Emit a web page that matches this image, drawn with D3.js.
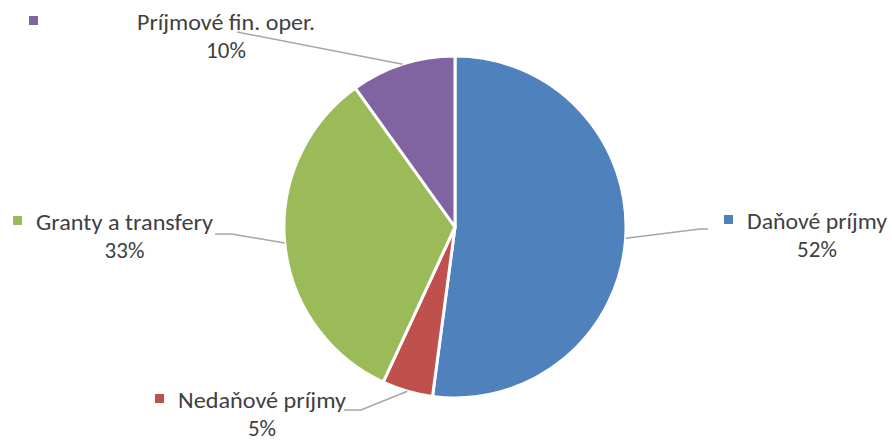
<!DOCTYPE html>
<html><head><meta charset="utf-8">
<script src="https://cdn.jsdelivr.net/npm/d3@7"></script>
<style>body{margin:0;background:#fff}svg{display:block}</style>
</head><body>
<svg id="c" width="892" height="441"></svg>
<script>
const categories = ["Daňové príjmy", "Nedaňové príjmy", "Granty a transfery", "Príjmové fin. oper."];
const values = [52.1, 4.8, 33.2, 9.9];
const labels = ["52%", "5%", "33%", "10%"];
const colors = ["#4F81BD", "#C0504D", "#9BBB59", "#8064A2"];

// label layout: name text start x, baseline y, target width, elbow, marker x, percent baseline
const layout = [
  {tx: 747, ty: 229, w: 140, elbow: [708, 229], side: "right", mx: 724, py: 257},
  {tx: 178, ty: 408, w: 168, elbow: [361, 410], side: "left", mx: 155, py: 436},
  {tx: 36,  ty: 230, w: 177, elbow: [232, 234], side: "left", mx: 13, py: 258},
  {tx: 137, ty: 30,  w: 178, elbow: [237, 32], side: "left", mx: 29, py: 58}
];

const svg = d3.select("#c");
const cx = 455, cy = 227, r = 171;
const g = svg.append("g").attr("transform", `translate(${cx},${cy})`);
const pie = d3.pie().sort(null).value(d => d)(values);
const arc = d3.arc().innerRadius(0).outerRadius(r);
g.selectAll("path").data(pie).join("path")
  .attr("d", arc).attr("fill", (d,i) => colors[i])
  .attr("stroke", "#fff").attr("stroke-width", 3).attr("stroke-linejoin", "round");

const fam = "Carlito, Calibri, Lato, 'Open Sans', sans-serif";
pie.forEach((d, i) => {
  const L = layout[i];
  const a = (d.startAngle + d.endAngle) / 2;
  const px = cx + Math.sin(a) * r, py = cy - Math.cos(a) * r;
  let pts;
  if (L.side === "right") pts = [[px, py], [L.elbow[0] - 8, L.elbow[1]], L.elbow];
  else pts = [[px, py], L.elbow, [L.elbow[0] - 17, L.elbow[1]]];
  if (i === 3) pts = [[px, py], L.elbow];
  svg.append("path").attr("d", d3.line()(pts)).attr("fill", "none")
    .attr("stroke", "#A6A6A6").attr("stroke-width", 1.5);
  svg.append("rect").attr("x", L.mx).attr("y", L.ty - 14).attr("width", 9).attr("height", 9)
    .attr("fill", colors[i]);
  svg.append("text").attr("x", L.tx).attr("y", L.ty).text(categories[i])
    .attr("font-family", fam).attr("font-size", 23).attr("fill", "#404040")
    .attr("textLength", L.w).attr("lengthAdjust", "spacingAndGlyphs");
  svg.append("text").attr("x", L.tx + L.w / 2).attr("y", L.py)
    .attr("text-anchor", "middle").text(labels[i])
    .attr("font-family", fam).attr("font-size", 23).attr("fill", "#404040");
});
svg.selectAll("text").raise();
</script>
</body></html>
